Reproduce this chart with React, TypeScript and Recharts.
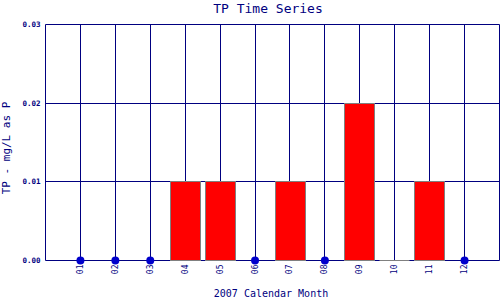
import { ComposedChart, Bar, Scatter, XAxis, YAxis, CartesianGrid } from 'recharts';

const months = [1, 2, 3, 4, 5, 6, 7, 8, 9, 10, 11, 12];
const monthLabels = ['01', '02', '03', '04', '05', '06', '07', '08', '09', '10', '11', '12'];
// measured TP (mg/L), null where no bar
const tpValues = [null, null, null, 0.01, 0.01, null, 0.01, null, 0.02, 0, 0.01, null];
// non-detect markers sitting on the axis
const ndValues = [0, 0, 0, null, null, 0, null, 0, null, null, null, 0];
const yTicks = [0, 0.01, 0.02, 0.03];

const X_MAX = 13;
const Y_MAX = 0.03;
const NAVY = '#000080';
const MONO = '"DejaVu Sans Mono", monospace';

const data = months.map((m, i) => ({ m, tp: tpValues[i], nd: ndValues[i] }));

// grid also draws the frame; snapped to whole pixels so lines stay crisp
const vLines = ({ offset }: any) =>
  offset ? [0, ...months, X_MAX].map((m) => Math.floor(offset.left + (m / X_MAX) * offset.width) + 0.5) : [];
const hLines = ({ offset }: any) =>
  offset ? yTicks.map((v) => Math.floor(offset.top + (1 - v / Y_MAX) * offset.height) + 0.5) : [];

const BarShape = (props: any) => {
  const { x, y, width, height } = props;
  if (x == null || isNaN(x) || isNaN(y)) return null;
  const x0 = Math.round(x) + 0.5;
  const y0 = Math.floor(y) + 0.5;
  const w = Math.round(width);
  if (!height) {
    return <line x1={x0} x2={x0 + w} y1={y0} y2={y0} stroke="#808080" strokeWidth={1} />;
  }
  const y1 = Math.floor(y + height) + 0.5;
  return <rect x={x0} y={y0} width={w} height={y1 - y0} fill="#ff0000" stroke="#808080" strokeWidth={1} />;
};

const DotShape = (props: any) => {
  if (props.payload?.nd == null || isNaN(props.cy)) return null;
  return <circle cx={props.cx} cy={props.cy} r={4} fill="#0000cc" />;
};

const MonthTick = (props: any) => {
  const { x, y, payload } = props;
  return (
    <text
      x={0}
      y={0}
      transform={`translate(${x},${y}) rotate(-90)`}
      textAnchor="end"
      dominantBaseline="central"
      fontFamily={MONO}
      fontSize={8}
      fill={NAVY}
    >
      {monthLabels[payload.value - 1]}
    </text>
  );
};

export default function App() {
  return (
    <div style={{ position: 'absolute', left: 0, top: 0, width: 500, height: 300, background: '#fff' }}>
      <ComposedChart data={data} width={500} height={300} margin={{ top: 24.5, right: 0.5, bottom: 0, left: 0.5 }}>
        <CartesianGrid
          stroke={NAVY}
          strokeWidth={1}
          verticalCoordinatesGenerator={vLines}
          horizontalCoordinatesGenerator={hLines}
        />
        <XAxis
          dataKey="m"
          type="number"
          domain={[0, X_MAX]}
          ticks={months}
          height={39.5}
          tickLine={false}
          tickSize={0}
          tickMargin={4}
          axisLine={false}
          tick={<MonthTick />}
          interval={0}
        />
        <YAxis
          type="number"
          domain={[0, Y_MAX]}
          ticks={yTicks}
          width={45}
          tickLine={false}
          tickSize={0}
          tickMargin={5}
          axisLine={false}
          tickFormatter={(v: number) => v.toFixed(2)}
          tick={{ fontFamily: MONO, fontSize: 7.5, fontWeight: 'bold', fill: NAVY }}
        />
        <Bar dataKey="tp" barSize={30} shape={<BarShape />} isAnimationActive={false} />
        <Scatter dataKey="nd" shape={<DotShape />} isAnimationActive={false} />
      </ComposedChart>
      <svg width={500} height={300} style={{ position: 'absolute', left: 0, top: 0, pointerEvents: 'none' }}>
        <text x={268} y={13} textAnchor="middle" fontFamily={MONO} fontSize={13} fill={NAVY}>
          TP Time Series
        </text>
        <text x={271} y={297} textAnchor="middle" fontFamily={MONO} fontSize={10} fill={NAVY}>
          2007 Calendar Month
        </text>
        <text
          x={0}
          y={0}
          transform="translate(10,148) rotate(-90)"
          textAnchor="middle"
          fontFamily={MONO}
          fontSize={11}
          fill={NAVY}
        >
          TP - mg/L as P
        </text>
      </svg>
    </div>
  );
}
